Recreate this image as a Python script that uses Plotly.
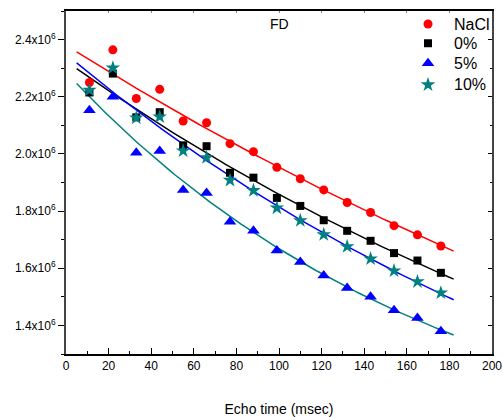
import numpy as np
import plotly.graph_objects as go

echo_time = [11, 22, 33, 44, 55, 66, 77, 88, 99, 110, 121, 132, 143, 154, 165, 176]
nacl = [2.250, 2.364, 2.194, 2.226, 2.115, 2.109, 2.036, 2.008, 1.953, 1.913, 1.874, 1.830, 1.795, 1.749, 1.717, 1.678]
p0 = [2.215, 2.281, 2.128, 2.146, 2.030, 2.027, 1.934, 1.917, 1.846, 1.818, 1.768, 1.731, 1.696, 1.653, 1.627, 1.584]
p5 = [2.153, 2.200, 2.004, 2.010, 1.874, 1.863, 1.763, 1.731, 1.662, 1.622, 1.575, 1.531, 1.500, 1.453, 1.426, 1.380]
p10 = [2.223, 2.301, 2.126, 2.130, 2.011, 1.987, 1.908, 1.872, 1.811, 1.767, 1.718, 1.676, 1.633, 1.591, 1.553, 1.514]
scale = 1e6

ytick_vals = [1.4, 1.6, 1.8, 2.0, 2.2, 2.4]
ytick_text = ["1.4x10<sup>6</sup>", "1.6x10<sup>6</sup>", "1.8x10<sup>6</sup>",
              "2.0x10<sup>6</sup>", "2.2x10<sup>6</sup>", "2.4x10<sup>6</sup>"]
yminor_vals = [1.3, 1.5, 1.7, 1.9, 2.1, 2.3, 2.5]

def expfit(x, y):
    x = np.asarray(x, float); y = np.asarray(y, float)
    best = None
    for c in np.linspace(0, y.min() - 0.02, 300):
        b, a = np.polyfit(x, np.log(y - c), 1)
        pred = c + np.exp(a + b * x)
        sse = np.sum((pred - y) ** 2)
        if best is None or sse < best[0]:
            best = (sse, c, a, b)
    _, c, a, b = best
    xf = np.linspace(5, 182, 120)
    return xf, c + np.exp(a + b * xf)

fig = go.Figure()

fits = [(nacl, "#ff0000"), (p0, "#000000"), (p10, "#0000ff"), (p5, "#008080")]
for data, col in fits:
    xf, yf = expfit(echo_time, data)
    fig.add_trace(go.Scatter(x=xf, y=yf * scale, mode="lines",
                             line=dict(color=col, width=1.5), showlegend=False, hoverinfo="skip"))

series = [
    ("NaCl", nacl, "circle", "#ff0000", 9),
    ("0%", p0, "square", "#000000", 8),
    ("5%", p5, "triangle-up", "#0000ff", 11),
    ("10%", p10, "star", "#008080", 11),
]
for name, data, sym, col, sz in series:
    fig.add_trace(go.Scatter(x=echo_time, y=np.array(data) * scale, mode="markers", name=name,
                             showlegend=False,
                             marker=dict(symbol=sym, color=col, size=sz, line=dict(width=0))))

# invisible trace for mirrored axes
fig.add_trace(go.Scatter(x=[0], y=[2.0e6], xaxis="x2", yaxis="y2", mode="markers",
                         marker=dict(opacity=0), showlegend=False, hoverinfo="skip"))

# manual legend (positions in plot-area fractions on a hidden 0..1 axis pair)
leg_x = 0.8498
leg_text_x = 0.905
leg_rows = [0.962, 0.906, 0.848, 0.785]
annotations = [dict(text="FD", x=0.5, y=0.99, xref="paper", yref="paper",
                    xanchor="center", yanchor="top", showarrow=False, font=dict(size=14))]
for (name, data, sym, col, sz), ry in zip(series, leg_rows):
    fig.add_trace(go.Scatter(x=[leg_x], y=[ry], xaxis="x3", yaxis="y3", mode="markers",
                             marker=dict(symbol=sym, color=col, size=sz, line=dict(width=0)),
                             showlegend=False, hoverinfo="skip"))
    annotations.append(dict(text=name, x=leg_text_x, y=ry, xref="paper", yref="paper",
                            xanchor="left", yanchor="middle", showarrow=False,
                            font=dict(size=16)))

fig.update_layout(
    width=503, height=417,
    margin=dict(l=66, r=11, t=11, b=63, autoexpand=False),
    paper_bgcolor="white", plot_bgcolor="white",
    showlegend=False,
    font=dict(family="Liberation Sans, Arial, sans-serif", color="#000000"),
    xaxis=dict(range=[0, 200], tickvals=list(range(0, 201, 20)), ticks="inside", ticklen=6,
               tickwidth=1, tickcolor="black", automargin=False,
               minor=dict(tickvals=list(range(10, 200, 20)), ticks="inside", ticklen=3, tickcolor="black"),
               showline=True, linecolor="black", linewidth=1.5, showgrid=False, zeroline=False,
               tickfont=dict(size=12),
               title=dict(text="Echo time (msec)", font=dict(size=14), standoff=32)),
    yaxis=dict(range=[1.3e6, 2.5e6], tickvals=[v * scale for v in ytick_vals], ticktext=ytick_text,
               ticks="outside", ticklen=6, tickwidth=1, tickcolor="black", automargin=False,
               minor=dict(tickvals=[v * scale for v in yminor_vals],
                          ticks="outside", ticklen=3, tickcolor="black"),
               showline=True, linecolor="#444444", linewidth=2, showgrid=False, zeroline=False,
               tickfont=dict(size=12)),
    xaxis2=dict(range=[0, 200], overlaying="x", side="top", showticklabels=False, automargin=False,
                tickvals=list(range(0, 201, 20)), ticks="inside", ticklen=2, tickcolor="#888888",
                showline=True, linecolor="black", linewidth=1.5, showgrid=False, zeroline=False),
    yaxis2=dict(range=[1.3e6, 2.5e6], overlaying="y", side="right", showticklabels=False,
                automargin=False,
                tickvals=[v * scale for v in ytick_vals], ticks="inside", ticklen=4, tickcolor="black",
                minor=dict(tickvals=[v * scale for v in yminor_vals],
                           ticks="inside", ticklen=2, tickcolor="black"),
                showline=True, linecolor="#444444", linewidth=2, showgrid=False, zeroline=False),
    xaxis3=dict(range=[0, 1], overlaying="x", visible=False, automargin=False),
    yaxis3=dict(range=[0, 1], overlaying="y", visible=False, automargin=False),
    annotations=annotations,
)

fig.write_html("out.html")
